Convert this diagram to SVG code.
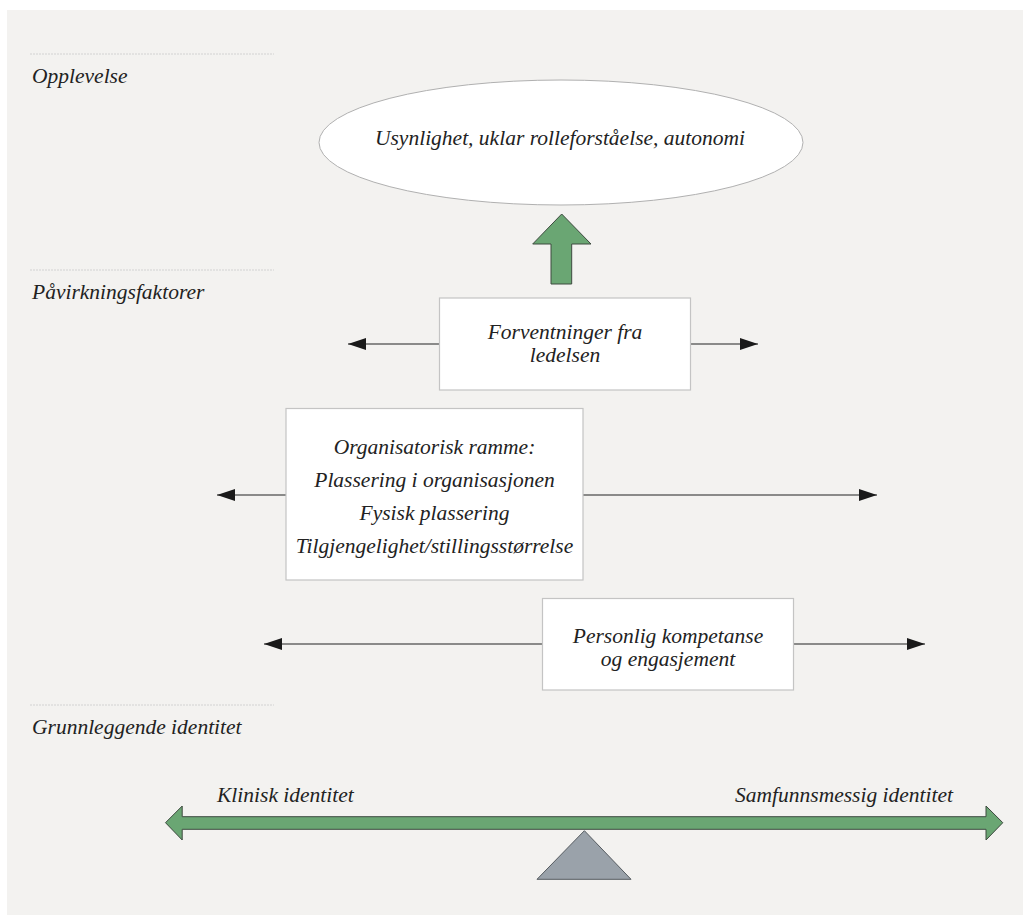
<svg xmlns="http://www.w3.org/2000/svg" width="1023" height="915" viewBox="0 0 1023 915">
<defs>
<style>
.t{font-family:"Liberation Serif","Times New Roman",serif;font-style:italic;font-size:21.5px;fill:#222}
.c{text-anchor:middle}
.sep{stroke:#d2d2d2;stroke-width:1;stroke-dasharray:2 1}
.box{fill:#fff;stroke:#c4c4c4;stroke-width:1.2}
.con{stroke:#222;stroke-width:1.2;fill:none}
</style>
<marker id="ah" viewBox="0 0 18 12" refX="18" refY="6" markerWidth="18" markerHeight="12" markerUnits="userSpaceOnUse" orient="auto-start-reverse">
<path d="M0,0 L18,6 L0,12 Z" fill="#1a1a1a"/>
</marker>
</defs>
<rect x="0" y="0" width="1023" height="915" fill="#ffffff"/>
<rect x="7" y="10" width="1016" height="905" fill="#f3f2f0"/>

<g id="section-labels">
<line class="sep" x1="30" y1="54" x2="274" y2="54"/>
<text class="t" x="32" y="83">Opplevelse</text>
<line class="sep" x1="30" y1="270" x2="274" y2="270"/>
<text class="t" x="32" y="299">Påvirkningsfaktorer</text>
<line class="sep" x1="30" y1="705" x2="274" y2="705"/>
<text class="t" x="32" y="734">Grunnleggende identitet</text>
</g>

<g id="connectors">
<line class="con" x1="439" y1="344" x2="348" y2="344" marker-end="url(#ah)"/>
<line class="con" x1="691" y1="344" x2="758" y2="344" marker-end="url(#ah)"/>
<line class="con" x1="286" y1="495" x2="217" y2="495" marker-end="url(#ah)"/>
<line class="con" x1="583" y1="495" x2="877" y2="495" marker-end="url(#ah)"/>
<line class="con" x1="542" y1="644" x2="264" y2="644" marker-end="url(#ah)"/>
<line class="con" x1="793" y1="644" x2="925" y2="644" marker-end="url(#ah)"/>
<path id="up-arrow" d="M561.7,214 L591,244 L571.7,244 L571.7,284 L551,284 L551,244 L532.7,244 Z" fill="#6aa673" stroke="#3d4a3f" stroke-width="1"/>
</g>

<g id="node-opplevelse">
<ellipse cx="561" cy="142.5" rx="242" ry="62.5" fill="#fff" stroke="#b0b0b0" stroke-width="1"/>
<text class="t c" x="560" y="145">Usynlighet, uklar rolleforståelse, autonomi</text>
</g>

<g id="node-forventninger">
<rect class="box" x="439.5" y="298" width="251" height="92"/>
<text class="t c" x="565" y="339">Forventninger fra</text>
<text class="t c" x="565" y="362">ledelsen</text>
</g>

<g id="node-organisatorisk">
<rect class="box" x="286" y="408.5" width="297" height="171.5"/>
<text class="t c" x="434.5" y="454">Organisatorisk ramme:</text>
<text class="t c" x="434.5" y="487">Plassering i organisasjonen</text>
<text class="t c" x="434.5" y="520">Fysisk plassering</text>
<text class="t c" x="434.5" y="553">Tilgjengelighet/stillingsstørrelse</text>
</g>

<g id="node-personlig">
<rect class="box" x="542.5" y="598.5" width="251" height="91.5"/>
<text class="t c" x="668" y="643">Personlig kompetanse</text>
<text class="t c" x="668" y="666">og engasjement</text>
</g>

<g id="balance">
<path d="M165.5,822.7 L182.2,806 L182.2,816.7 L986,816.7 L986,806 L1002.8,822.7 L986,840 L986,829.3 L182.2,829.3 L182.2,840 Z" fill="#6aa673" stroke="#3d4a3f" stroke-width="1"/>
<path d="M584.4,830.7 L631,879.3 L537,879.3 Z" fill="#9aa2aa" stroke="#555b60" stroke-width="1"/>
<text class="t" x="217" y="802">Klinisk identitet</text>
<text class="t" x="953" y="802" text-anchor="end">Samfunnsmessig identitet</text>
</g>
</svg>
